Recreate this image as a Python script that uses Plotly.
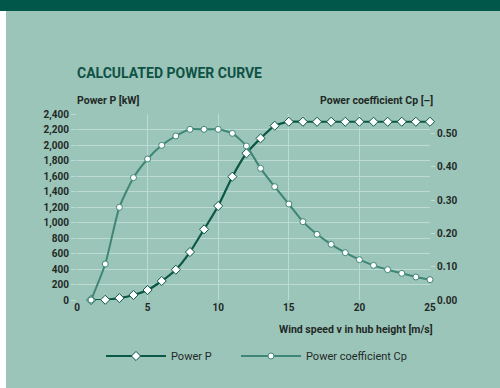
import plotly.graph_objects as go

wind_speed = list(range(1, 26))
power_kw = [0, 3, 25, 65, 129, 245, 391, 619, 912, 1213, 1591, 1893, 2086, 2249, 2300,
            2300, 2300, 2300, 2300, 2300, 2300, 2300, 2300, 2300, 2300]
power_coeff = [0.00, 0.108, 0.278, 0.367, 0.423, 0.464, 0.492, 0.512, 0.512, 0.512, 0.50,
               0.462, 0.395, 0.34, 0.288, 0.235, 0.197, 0.167, 0.142, 0.121, 0.104,
               0.091, 0.080, 0.069, 0.061]
x_ticks = [0, 5, 10, 15, 20, 25]
p_ticks = list(range(0, 2401, 200))
cp_ticks = [0.0, 0.1, 0.2, 0.3, 0.4, 0.5]

FONT = "Roboto, Liberation Sans, sans-serif"
BG = "#9CC5B9"
GRID = "#BCDCD3"
DARK = "#0C5846"
MID = "#3E8675"
TXT = "#1F2A27"

W, H = 500, 388
L, R, T, B = 77, 70, 114, 88
PW, PH = W - L - R, H - T - B


def px(xp):
    return (xp - L) / PW


def py(yp):
    return (H - B - yp) / PH


def fnt(size, color=TXT, weight="bold"):
    return dict(family=FONT, size=size, color=color, weight=weight)


fig = go.Figure()
fig.add_trace(go.Scatter(
    x=wind_speed, y=power_coeff, yaxis="y2", name="Power coefficient Cp",
    mode="lines+markers", line=dict(color=MID, width=2, shape="spline", smoothing=0.6),
    marker=dict(symbol="circle", size=6, color="white", line=dict(color=MID, width=1)),
    cliponaxis=False, legend="legend2",
))
fig.add_trace(go.Scatter(
    x=wind_speed, y=power_kw, yaxis="y", name="Power P",
    mode="lines+markers", line=dict(color=DARK, width=2.2, shape="spline", smoothing=0.6),
    marker=dict(symbol="diamond", size=7, color="white", line=dict(color=DARK, width=1)),
    cliponaxis=False, legend="legend",
))

shapes = [
    dict(type="rect", xref="paper", yref="paper", x0=px(-5), x1=px(W + 5), y0=py(-5), y1=py(11),
         fillcolor="#00574A", line=dict(width=0), layer="below"),
    dict(type="rect", xref="paper", yref="paper", x0=px(-5), x1=px(6), y0=py(11), y1=py(H + 5),
         fillcolor="white", line=dict(width=0), layer="below"),
]

annotations = [
    dict(text="CALCULATED POWER CURVE", xref="paper", yref="paper", x=px(75), y=py(73),
         xanchor="left", yanchor="middle", showarrow=False, font=fnt(14, "#0F5245")),
    dict(text="Power P [kW]", xref="paper", yref="paper", x=px(75), y=py(100),
         xanchor="left", yanchor="middle", showarrow=False, font=fnt(10.5)),
    dict(text="Power coefficient Cp [–]", xref="paper", yref="paper", x=px(435), y=py(100),
         xanchor="right", yanchor="middle", showarrow=False, font=fnt(10.5)),
    dict(text="Wind speed v in hub height [m/s]", xref="paper", yref="paper", x=px(435), y=py(329),
         xanchor="right", yanchor="middle", showarrow=False, font=fnt(10.5)),
]

leg_common = dict(orientation="h", yanchor="middle", bgcolor="rgba(0,0,0,0)",
                  font=fnt(11, weight="normal"), itemwidth=60)

fig.update_layout(
    width=W, height=H,
    margin=dict(l=L, r=R, t=T, b=B, autoexpand=False),
    paper_bgcolor=BG, plot_bgcolor=BG,
    font=dict(family=FONT, color=TXT),
    shapes=shapes, annotations=annotations,
    showlegend=True,
    legend=dict(x=px(101), y=py(356), xanchor="left", **leg_common),
    legend2=dict(x=px(236), y=py(356), xanchor="left", **leg_common),
    xaxis=dict(range=[0, 25], tickvals=x_ticks, showgrid=True, gridcolor=GRID, gridwidth=1,
               zeroline=False, showline=False, ticks="", automargin=False,
               tickfont=fnt(10)),
    yaxis=dict(range=[0, 2400], tickvals=p_ticks, tickformat=",", showgrid=True, gridcolor=GRID,
               gridwidth=1, zeroline=False, showline=False, ticks="outside", ticklen=5,
               tickcolor=GRID, automargin=False, tickfont=fnt(10)),
    yaxis2=dict(range=[0, 0.558], tickvals=cp_ticks, tickformat=".2f", overlaying="y", side="right",
                showgrid=False, zeroline=False, showline=False, ticks="outside", ticklen=4,
                tickcolor=GRID, automargin=False, tickfont=fnt(10)),
)

fig.write_html("out.html", config={"displayModeBar": False},
               post_script="document.body.style.margin='0';document.body.style.overflow='hidden';")
